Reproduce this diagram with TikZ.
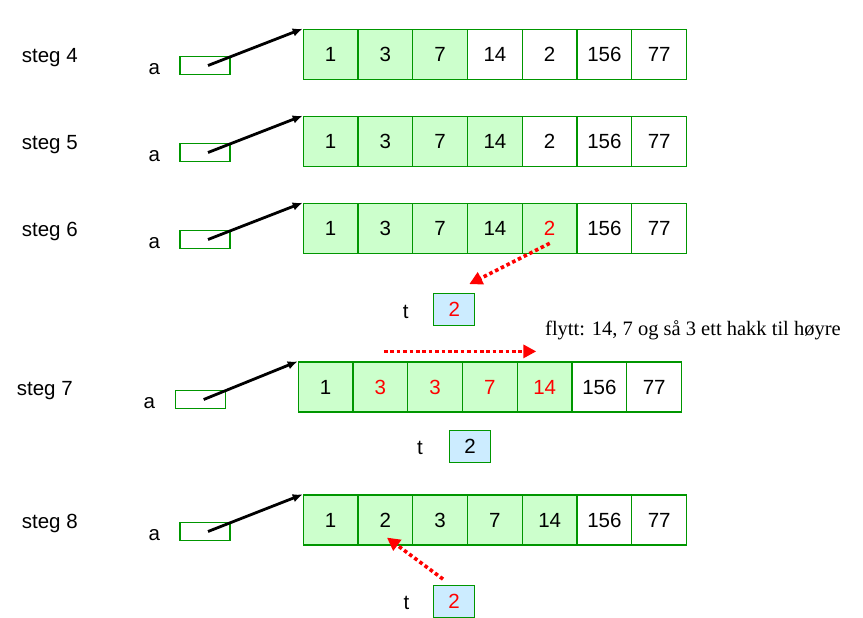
\documentclass[tikz,border=0pt]{standalone}
\usepackage{fontspec}
\setmainfont{Liberation Sans}
\newfontfamily\serifx{Liberation Serif}
\usetikzlibrary{arrows.meta}
\definecolor{cellgreen}{HTML}{CCFFCC}
\definecolor{bordergreen}{RGB}{0,150,0}
\definecolor{tblue}{HTML}{CCECFF}
\definecolor{redx}{HTML}{FF0000}
% #1 prefix, #2 left x, #3 top y, #4 list value/textcolour/fillcolour
\newcommand\cellrow[4]{%
  \foreach \v/\tc/\fc [count=\i] in {#4} {
    \node[cell, fill=\fc, text=\tc] (#1c\i) at ({#2+(\i-0.5)*54.75},{#3+25}) {\v};
  }}
\begin{document}
\begin{tikzpicture}[x=1pt,y=-1pt,
  every node/.style={font=\fontsize{20.5}{24}\selectfont},
  cell/.style={draw=bordergreen, line width=1.2pt, minimum width=54.75pt, minimum height=50pt, inner sep=0pt},
  abox/.style={draw=bordergreen, line width=1.2pt, minimum width=50pt, minimum height=17.6pt, inner sep=0pt},
  tbox/.style={draw=bordergreen, line width=1.2pt, fill=tblue, minimum width=41pt, minimum height=32pt, inner sep=0pt},
  lbl/.style={anchor=base west, inner sep=0pt},
  ptr/.style={line width=2.8pt, -{Latex[length=10pt,width=8.5pt]}},
  reddot/.style={draw=redx, line width=3.6pt, dash pattern=on 3.6pt off 2.8pt, -{Triangle[length=13pt,width=13pt]}}
]
\useasboundingbox (0,0) rectangle (863,618);

% steg 4
\node[lbl] (s4) at (21.7,62.3) {steg 4};
\node[lbl] (la4) at (148.3,74.3) {a};
\node[abox] (a4) at (205,65.5) {};
\cellrow{r4}{303.3}{29.3}{1/black/cellgreen,3/black/cellgreen,7/black/cellgreen,14/black/white,2/black/white,156/black/white,77/black/white}
\draw[ptr] ([xshift=3pt]a4.center) -- (r4c1.north west);

% steg 5
\node[lbl] (s5) at (21.7,149.3) {steg 5};
\node[lbl] (la5) at (148.3,161.3) {a};
\node[abox] (a5) at (205,152.5) {};
\cellrow{r5}{303.3}{116.3}{1/black/cellgreen,3/black/cellgreen,7/black/cellgreen,14/black/cellgreen,2/black/white,156/black/white,77/black/white}
\draw[ptr] ([xshift=3pt]a5.center) -- (r5c1.north west);

% steg 6
\node[lbl] (s6) at (21.7,236.3) {steg 6};
\node[lbl] (la6) at (148.3,248.3) {a};
\node[abox] (a6) at (205,239.5) {};
\cellrow{r6}{303.3}{203.3}{1/black/cellgreen,3/black/cellgreen,7/black/cellgreen,14/black/cellgreen,2/redx/cellgreen,156/black/white,77/black/white}
\draw[ptr] ([xshift=3pt]a6.center) -- (r6c1.north west);
\node[lbl] (lt6) at (402.7,318) {t};
\node[tbox, text=redx] (t6) at (454.2,309.7) {2};
\draw[reddot] ([yshift=-15pt]r6c5.center) -- ([xshift=-6pt,yshift=9pt]t6.north east);

% note
\node[lbl, font=\serifx\fontsize{20.5}{24}\selectfont] (note) at (545,335) {flytt: 14, 7 og så 3 ett hakk til høyre};

% steg 7
\node[lbl] (s7) at (16.7,395.3) {steg 7};
\node[lbl] (la7) at (143.3,408.3) {a};
\node[abox] (a7) at (200.7,399.5) {};
\cellrow{r7}{298.3}{362}{1/black/cellgreen,3/redx/cellgreen,3/redx/cellgreen,7/redx/cellgreen,14/redx/cellgreen,156/black/white,77/black/white}
\draw[ptr] ([xshift=3pt]a7.center) -- (r7c1.north west);
\draw[reddot] ([xshift=3.5pt,yshift=10pt]r7c2.north) -- ([xshift=-8.4pt,yshift=10pt]r7c5.north);
\node[lbl] (lt7) at (417,454) {t};
\node[tbox] (t7) at (470,446.3) {2};

% steg 8
\node[lbl] (s8) at (21.7,528.3) {steg 8};
\node[lbl] (la8) at (148.3,540.3) {a};
\node[abox] (a8) at (205,531.5) {};
\cellrow{r8}{303.3}{495}{1/black/cellgreen,2/black/cellgreen,3/black/cellgreen,7/black/cellgreen,14/black/cellgreen,156/black/white,77/black/white}
\draw[ptr] ([xshift=3pt]a8.center) -- (r8c1.north west);
\node[lbl] (lt8) at (403.3,609) {t};
\node[tbox, text=redx] (t8) at (454,601.7) {2};
\draw[reddot] ([xshift=-11pt,yshift=6pt]t8.north) -- ([xshift=1.5pt,yshift=8pt]r8c2.south);
\end{tikzpicture}
\end{document}
